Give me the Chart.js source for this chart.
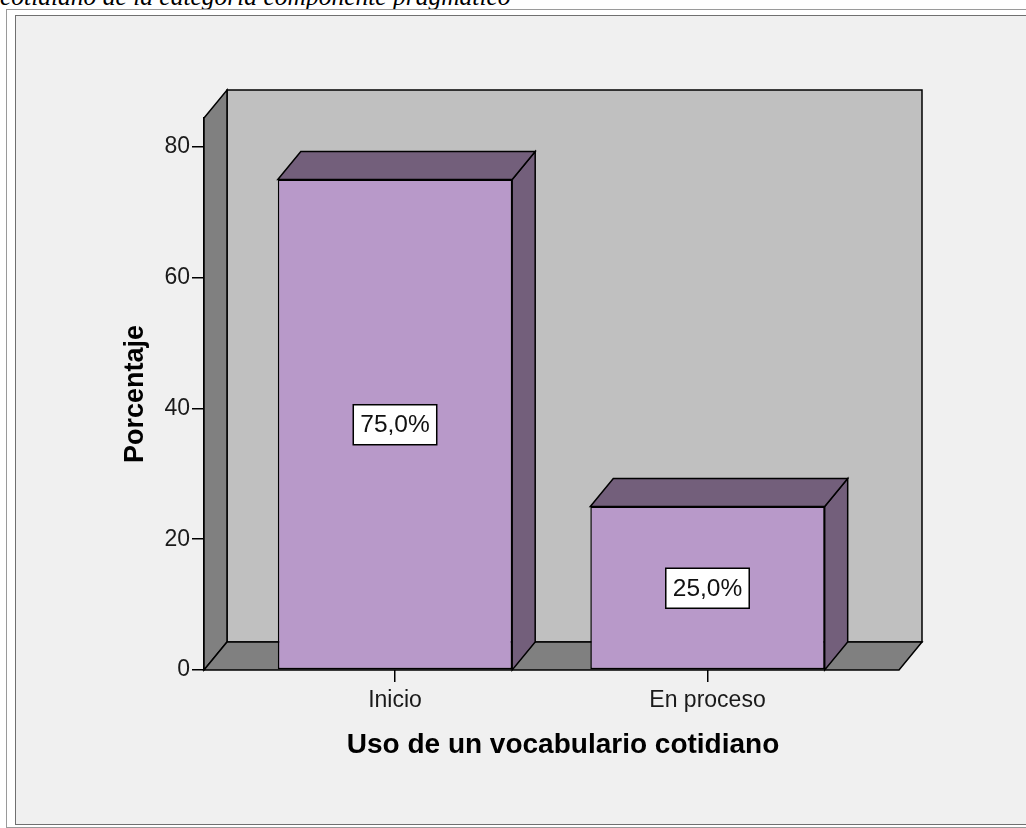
<!DOCTYPE html>
<html>
<head>
<meta charset="utf-8">
<script src="https://cdn.jsdelivr.net/npm/chart.js@4.4.1/dist/chart.umd.min.js"></script>
<style>
  html, body { margin: 0; padding: 0; background: #fff; width: 1026px; height: 828px; overflow: hidden; }
  #caption { position: absolute; left: 0; top: -15px; font: italic 25.5px "Liberation Serif", "Times New Roman", serif; line-height: 24px; white-space: nowrap; color: #000; }
  #outer { position: absolute; left: 6px; top: 9px; width: 1040px; height: 817px; border: 1px solid #9a9a9a; }
  #panel { position: absolute; left: 15px; top: 15px; width: 1030px; height: 808px; background: #f0f0f0; border: 1px solid #707070; }
  #chart { position: absolute; left: 0; top: 0; }
</style>
</head>
<body>
<div id="caption">cotidiano de la categoría componente pragmático</div>
<div id="outer"></div>
<div id="panel"></div>
<canvas id="chart" width="1026" height="828"></canvas>
<script>
// data
const categories = ['Inicio', 'En proceso'];
const percentages = [75.0, 25.0];
const yTicks = [0, 20, 40, 60, 80];

// 3d look of the old spss chart
const depth = { dx: 23, dy: 28 };
const wallFill = '#c0c0c0';
const sideFill = '#808080';
const barFill = '#b899c9';
const barDark = '#735f7b';
const sans = '"Liberation Sans", Arial, sans-serif';

function fmtPct(v) {
    return v.toFixed(1).replace('.', ',') + '%';
}

function poly(ctx, pts, fill) {
    ctx.beginPath();
    ctx.moveTo(pts[0][0], pts[0][1]);
    for (let i = 1; i < pts.length; i++) ctx.lineTo(pts[i][0], pts[i][1]);
    ctx.closePath();
    ctx.fillStyle = fill;
    ctx.fill();
    ctx.stroke();
}

const box3d = {
    id: 'box3d',
    beforeDatasetsDraw(chart) {
        const { ctx, chartArea: a } = chart;
        const y0 = chart.scales.y.getPixelForValue(0);
        const { dx, dy } = depth;
        ctx.save();
        ctx.lineWidth = 1.5;
        ctx.strokeStyle = '#000';
        // back wall, left wall, floor
        poly(ctx, [[a.left + dx, a.top - dy], [a.right, a.top - dy], [a.right, y0 - dy], [a.left + dx, y0 - dy]], wallFill);
        poly(ctx, [[a.left, a.top], [a.left + dx, a.top - dy], [a.left + dx, y0 - dy], [a.left, y0]], sideFill);
        poly(ctx, [[a.left, y0], [a.left + dx, y0 - dy], [a.right, y0 - dy], [a.right - dx, y0]], sideFill);
        ctx.restore();
    },
    afterDatasetsDraw(chart) {
        const { ctx } = chart;
        const y0 = chart.scales.y.getPixelForValue(0);
        const { dx, dy } = depth;
        ctx.save();
        ctx.lineWidth = 1.5;
        ctx.strokeStyle = '#000';
        chart.getDatasetMeta(0).data.forEach((bar, i) => {
            const p = bar.getProps(['x', 'y', 'width'], true);
            const l = p.x - p.width / 2, r = p.x + p.width / 2, top = p.y;
            poly(ctx, [[r, top], [r + dx, top - dy], [r + dx, y0 - dy], [r, y0]], barDark);
            poly(ctx, [[l, top], [l + dx, top - dy], [r + dx, top - dy], [r, top]], barDark);

            // value box in the middle of the front face
            const txt = fmtPct(percentages[i]);
            ctx.font = '24.5px ' + sans;
            const bw = ctx.measureText(txt).width + 14, bh = 40;
            const cy = (top + y0) / 2;
            ctx.fillStyle = '#fff';
            ctx.fillRect(p.x - bw / 2, cy - bh / 2, bw, bh);
            ctx.strokeRect(p.x - bw / 2, cy - bh / 2, bw, bh);
            ctx.fillStyle = '#111';
            ctx.textAlign = 'center';
            ctx.textBaseline = 'middle';
            ctx.fillText(txt, p.x, cy + 1);
        });
        ctx.restore();
    }
};

new Chart(document.getElementById('chart'), {
    type: 'bar',
    data: {
        datasets: [{
            data: percentages.map((v, i) => ({ x: i, y: v })),
            backgroundColor: barFill,
            borderColor: '#000',
            borderWidth: 1.5,
            borderSkipped: false,
            barPercentage: 0.75,
            categoryPercentage: 1
        }]
    },
    options: {
        responsive: false,
        devicePixelRatio: 1,
        animation: false,
        layout: { padding: { left: 0, top: 118, right: 104, bottom: 0 } },
        plugins: { legend: { display: false }, tooltip: { enabled: false } },
        scales: {
            x: {
                type: 'linear',
                min: -0.6112,
                max: 1.6864,
                offset: false,
                afterFit: s => { s.height = 158; },
                afterBuildTicks: s => { s.ticks = categories.map((c, i) => ({ value: i })); },
                grid: { offset: false, drawOnChartArea: false, tickLength: 12, color: '#000', lineWidth: 1.5 },
                border: { display: false },
                ticks: {
                    callback: v => categories[v],
                    font: { family: sans, size: 23 },
                    color: '#1a1a1a',
                    padding: 5,
                    maxRotation: 0
                },
                title: {
                    display: true,
                    text: 'Uso de un vocabulario cotidiano',
                    font: { family: sans, size: 28, weight: 'bold', lineHeight: 1.2 },
                    color: '#000',
                    padding: { top: 0, bottom: 66 }
                }
            },
            y: {
                min: 0,
                max: 84.4,
                afterFit: s => { s.width = 204; },
                afterBuildTicks: s => { s.ticks = yTicks.map(v => ({ value: v })); },
                grid: { drawOnChartArea: false, tickLength: 12, color: '#000', lineWidth: 1.5 },
                border: { display: true, color: '#000', width: 1.5 },
                ticks: {
                    font: { family: sans, size: 23 },
                    color: '#1a1a1a',
                    padding: 2
                },
                title: {
                    display: true,
                    text: 'Porcentaje',
                    font: { family: sans, size: 27, weight: 'bold', lineHeight: 1.2 },
                    color: '#000',
                    padding: { top: 119, bottom: 0 }
                }
            }
        }
    },
    plugins: [box3d]
});
</script>
</body>
</html>
